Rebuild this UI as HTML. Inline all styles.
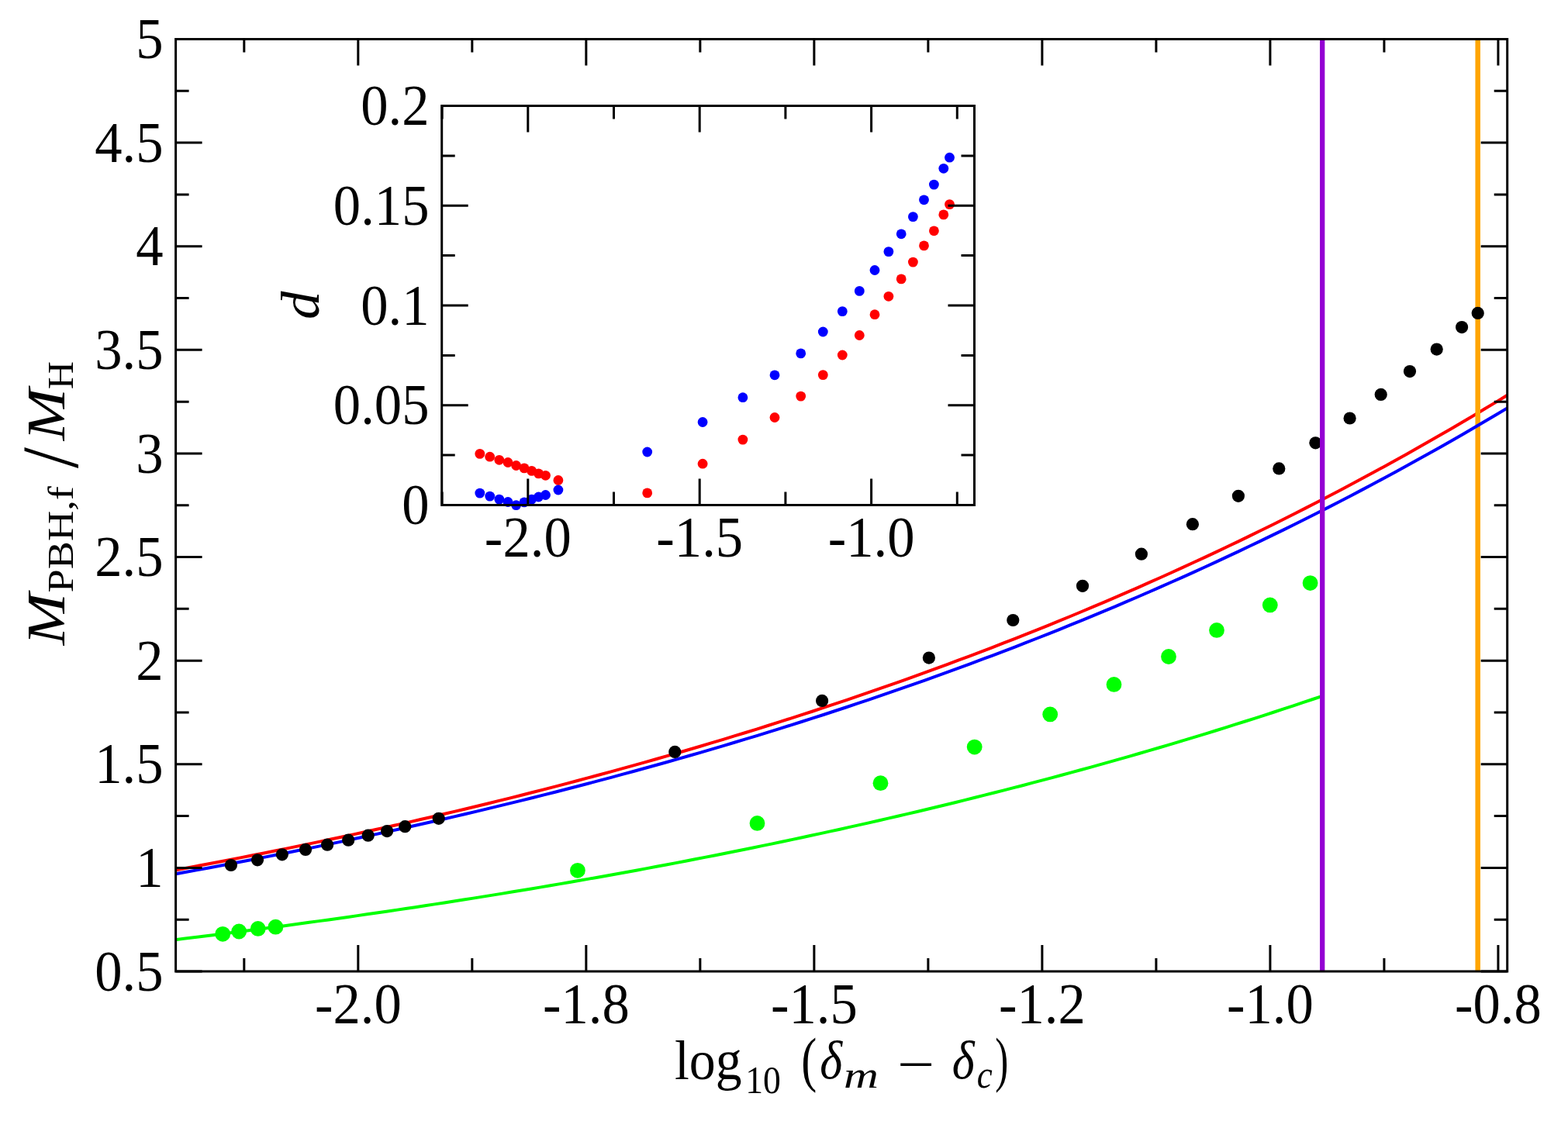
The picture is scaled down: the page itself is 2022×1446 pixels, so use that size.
<!DOCTYPE html><html><head><meta charset="utf-8"><style>html,body{margin:0;padding:0;background:#fff;overflow:hidden}svg{display:block}</style></head><body><svg width="2022" height="1446" viewBox="0 0 2022 1446">
<rect width="2022" height="1446" fill="#fff"/>
<clipPath id="cp"><rect x="226.6" y="50.5" width="1717.10" height="1202.50"/></clipPath>
<g clip-path="url(#cp)" fill="none" stroke-width="4" stroke-linejoin="round">
<polyline stroke="#ff0000" points="224.6,1122.62 239.0,1119.94 253.5,1117.24 267.9,1114.51 282.4,1111.75 296.8,1108.96 311.3,1106.15 325.7,1103.30 340.2,1100.43 354.6,1097.53 369.1,1094.60 383.5,1091.64 398.0,1088.65 412.4,1085.63 426.8,1082.57 441.3,1079.49 455.7,1076.38 470.2,1073.23 484.6,1070.06 499.1,1066.85 513.5,1063.61 528.0,1060.33 542.4,1057.02 556.9,1053.68 571.3,1050.31 585.8,1046.90 600.2,1043.45 614.6,1039.97 629.1,1036.46 643.5,1032.91 658.0,1029.32 672.4,1025.70 686.9,1022.04 701.3,1018.35 715.8,1014.61 730.2,1010.84 744.7,1007.03 759.1,1003.18 773.6,999.30 788.0,995.37 802.4,991.40 816.9,987.40 831.3,983.35 845.8,979.26 860.2,975.13 874.7,970.96 889.1,966.75 903.6,962.49 918.0,958.19 932.5,953.85 946.9,949.46 961.4,945.03 975.8,940.55 990.2,936.03 1004.7,931.46 1019.1,926.85 1033.6,922.18 1048.0,917.48 1062.5,912.72 1076.9,907.92 1091.4,903.06 1105.8,898.16 1120.3,893.21 1134.7,888.21 1149.2,883.15 1163.6,878.05 1178.1,872.89 1192.5,867.69 1206.9,862.42 1221.4,857.11 1235.8,851.74 1250.3,846.32 1264.7,840.84 1279.2,835.31 1293.6,829.72 1308.1,824.07 1322.5,818.37 1337.0,812.61 1351.4,806.79 1365.9,800.91 1380.3,794.98 1394.7,788.98 1409.2,782.92 1423.6,776.80 1438.1,770.62 1452.5,764.37 1467.0,758.06 1481.4,751.69 1495.9,745.25 1510.3,738.75 1524.8,732.18 1539.2,725.55 1553.7,718.85 1568.1,712.08 1582.5,705.24 1597.0,698.33 1611.4,691.35 1625.9,684.30 1640.3,677.18 1654.8,669.99 1669.2,662.73 1683.7,655.39 1698.1,647.97 1712.6,640.49 1727.0,632.92 1741.5,625.28 1755.9,617.56 1770.3,609.77 1784.8,601.89 1799.2,593.94 1813.7,585.90 1828.1,577.78 1842.6,569.58 1857.0,561.30 1871.5,552.93 1885.9,544.48 1900.4,535.94 1914.8,527.32 1929.3,518.61 1943.7,509.81"/>
<path d="M1905.7 50.5V1253.0" stroke="#ffa500" stroke-width="6.5"/>
<polyline stroke="#0000ff" points="224.6,1127.66 239.0,1125.04 253.5,1122.39 267.9,1119.71 282.4,1117.00 296.8,1114.27 311.3,1111.51 325.7,1108.72 340.2,1105.90 354.6,1103.05 369.1,1100.18 383.5,1097.27 398.0,1094.34 412.4,1091.37 426.8,1088.38 441.3,1085.36 455.7,1082.30 470.2,1079.22 484.6,1076.10 499.1,1072.95 513.5,1069.77 528.0,1066.56 542.4,1063.31 556.9,1060.03 571.3,1056.72 585.8,1053.38 600.2,1050.00 614.6,1046.59 629.1,1043.14 643.5,1039.66 658.0,1036.14 672.4,1032.58 686.9,1028.99 701.3,1025.37 715.8,1021.71 730.2,1018.01 744.7,1014.27 759.1,1010.49 773.6,1006.68 788.0,1002.83 802.4,998.93 816.9,995.00 831.3,991.03 845.8,987.02 860.2,982.97 874.7,978.88 889.1,974.74 903.6,970.57 918.0,966.35 932.5,962.09 946.9,957.78 961.4,953.43 975.8,949.04 990.2,944.60 1004.7,940.12 1019.1,935.59 1033.6,931.02 1048.0,926.40 1062.5,921.74 1076.9,917.02 1091.4,912.26 1105.8,907.45 1120.3,902.59 1134.7,897.68 1149.2,892.73 1163.6,887.72 1178.1,882.66 1192.5,877.55 1206.9,872.39 1221.4,867.17 1235.8,861.91 1250.3,856.59 1264.7,851.21 1279.2,845.78 1293.6,840.30 1308.1,834.76 1322.5,829.16 1337.0,823.51 1351.4,817.80 1365.9,812.03 1380.3,806.21 1394.7,800.32 1409.2,794.38 1423.6,788.37 1438.1,782.31 1452.5,776.18 1467.0,769.99 1481.4,763.74 1495.9,757.42 1510.3,751.04 1524.8,744.60 1539.2,738.09 1553.7,731.51 1568.1,724.87 1582.5,718.16 1597.0,711.38 1611.4,704.53 1625.9,697.62 1640.3,690.63 1654.8,683.58 1669.2,676.45 1683.7,669.25 1698.1,661.97 1712.6,654.62 1727.0,647.20 1741.5,639.70 1755.9,632.13 1770.3,624.48 1784.8,616.75 1799.2,608.95 1813.7,601.06 1828.1,593.10 1842.6,585.05 1857.0,576.92 1871.5,568.71 1885.9,560.42 1900.4,552.04 1914.8,543.58 1929.3,535.03 1943.7,526.40"/>
<polyline stroke="#00ff00" points="224.6,1212.33 237.0,1210.81 249.5,1209.28 261.9,1207.74 274.4,1206.18 286.8,1204.61 299.3,1203.03 311.7,1201.43 324.1,1199.82 336.6,1198.19 349.0,1196.55 361.5,1194.90 373.9,1193.23 386.3,1191.55 398.8,1189.85 411.2,1188.13 423.7,1186.41 436.1,1184.66 448.6,1182.91 461.0,1181.13 473.4,1179.34 485.9,1177.54 498.3,1175.72 510.8,1173.89 523.2,1172.03 535.7,1170.17 548.1,1168.28 560.5,1166.38 573.0,1164.46 585.4,1162.53 597.9,1160.58 610.3,1158.61 622.7,1156.63 635.2,1154.63 647.6,1152.61 660.1,1150.57 672.5,1148.51 685.0,1146.44 697.4,1144.35 709.8,1142.24 722.3,1140.12 734.7,1137.97 747.2,1135.81 759.6,1133.62 772.0,1131.42 784.5,1129.20 796.9,1126.96 809.4,1124.70 821.8,1122.42 834.3,1120.12 846.7,1117.80 859.1,1115.46 871.6,1113.10 884.0,1110.72 896.5,1108.32 908.9,1105.89 921.4,1103.45 933.8,1100.99 946.2,1098.50 958.7,1095.99 971.1,1093.46 983.6,1090.91 996.0,1088.34 1008.4,1085.74 1020.9,1083.12 1033.3,1080.48 1045.8,1077.81 1058.2,1075.13 1070.7,1072.41 1083.1,1069.68 1095.5,1066.92 1108.0,1064.14 1120.4,1061.33 1132.9,1058.50 1145.3,1055.64 1157.8,1052.76 1170.2,1049.86 1182.6,1046.93 1195.1,1043.97 1207.5,1040.99 1220.0,1037.98 1232.4,1034.94 1244.8,1031.88 1257.3,1028.79 1269.7,1025.68 1282.2,1022.54 1294.6,1019.37 1307.1,1016.17 1319.5,1012.95 1331.9,1009.69 1344.4,1006.41 1356.8,1003.10 1369.3,999.77 1381.7,996.40 1394.1,993.00 1406.6,989.58 1419.0,986.12 1431.5,982.63 1443.9,979.12 1456.4,975.57 1468.8,971.99 1481.2,968.38 1493.7,964.74 1506.1,961.07 1518.6,957.37 1531.0,953.63 1543.5,949.86 1555.9,946.06 1568.3,942.22 1580.8,938.36 1593.2,934.45 1605.7,930.52 1618.1,926.55 1630.5,922.54 1643.0,918.50 1655.4,914.43 1667.9,910.32 1680.3,906.17 1692.8,901.99 1705.2,897.77"/>
</g>
<g fill="#000"><circle cx="297.9" cy="1116.0" r="8.1"/><circle cx="332.0" cy="1109.3" r="8.1"/><circle cx="363.8" cy="1102.3" r="8.1"/><circle cx="394.0" cy="1095.9" r="8.1"/><circle cx="422.1" cy="1089.7" r="8.1"/><circle cx="449.2" cy="1083.7" r="8.1"/><circle cx="474.7" cy="1077.7" r="8.1"/><circle cx="499.1" cy="1072.1" r="8.1"/><circle cx="522.3" cy="1066.2" r="8.1"/><circle cx="565.7" cy="1055.8" r="8.1"/><circle cx="870.3" cy="969.9" r="8.1"/><circle cx="1060.1" cy="903.9" r="8.1"/><circle cx="1197.9" cy="848.6" r="8.1"/><circle cx="1306.3" cy="800.0" r="8.1"/><circle cx="1396.0" cy="755.8" r="8.1"/><circle cx="1471.9" cy="714.7" r="8.1"/><circle cx="1537.9" cy="676.2" r="8.1"/><circle cx="1596.9" cy="639.8" r="8.1"/><circle cx="1649.3" cy="604.4" r="8.1"/><circle cx="1696.4" cy="571.3" r="8.1"/><circle cx="1740.6" cy="539.5" r="8.1"/><circle cx="1780.7" cy="508.9" r="8.1"/><circle cx="1818.0" cy="479.1" r="8.1"/><circle cx="1852.7" cy="450.6" r="8.1"/><circle cx="1885.1" cy="422.1" r="8.1"/><circle cx="1905.7" cy="403.9" r="8.1"/></g>
<g fill="#00ff00"><circle cx="287.2" cy="1204.8" r="9.9"/><circle cx="308.2" cy="1201.5" r="9.9"/><circle cx="332.7" cy="1197.9" r="9.9"/><circle cx="355.4" cy="1195.7" r="9.9"/><circle cx="744.9" cy="1122.8" r="9.9"/><circle cx="976.5" cy="1061.9" r="9.9"/><circle cx="1135.5" cy="1010.2" r="9.9"/><circle cx="1256.7" cy="963.6" r="9.9"/><circle cx="1354.2" cy="921.4" r="9.9"/><circle cx="1436.5" cy="882.9" r="9.9"/><circle cx="1507.0" cy="847.0" r="9.9"/><circle cx="1569.0" cy="812.9" r="9.9"/><circle cx="1637.8" cy="780.4" r="9.9"/><circle cx="1689.6" cy="752.1" r="9.9"/></g>
<path d="M1705.2 50.5V1253.0" stroke="#9400d3" stroke-width="6.3"/>
<path d="M461.82 1253.0V1219.0M461.82 50.5V84.5M755.84 1253.0V1219.0M755.84 50.5V84.5M1049.87 1253.0V1219.0M1049.87 50.5V84.5M1343.89 1253.0V1219.0M1343.89 50.5V84.5M1637.92 1253.0V1219.0M1637.92 50.5V84.5M1931.94 1253.0V1219.0M1931.94 50.5V84.5M314.81 1253.0V1236.0M314.81 50.5V67.5M608.83 1253.0V1236.0M608.83 50.5V67.5M902.86 1253.0V1236.0M902.86 50.5V67.5M1196.88 1253.0V1236.0M1196.88 50.5V67.5M1490.90 1253.0V1236.0M1490.90 50.5V67.5M1784.93 1253.0V1236.0M1784.93 50.5V67.5M226.6 1253.00H260.6M1943.7 1253.00H1909.7M226.6 1119.39H260.6M1943.7 1119.39H1909.7M226.6 985.78H260.6M1943.7 985.78H1909.7M226.6 852.17H260.6M1943.7 852.17H1909.7M226.6 718.56H260.6M1943.7 718.56H1909.7M226.6 584.94H260.6M1943.7 584.94H1909.7M226.6 451.33H260.6M1943.7 451.33H1909.7M226.6 317.72H260.6M1943.7 317.72H1909.7M226.6 184.11H260.6M1943.7 184.11H1909.7M226.6 50.50H260.6M1943.7 50.50H1909.7M226.6 1186.19H243.6M1943.7 1186.19H1926.7M226.6 1052.58H243.6M1943.7 1052.58H1926.7M226.6 918.97H243.6M1943.7 918.97H1926.7M226.6 785.36H243.6M1943.7 785.36H1926.7M226.6 651.75H243.6M1943.7 651.75H1926.7M226.6 518.14H243.6M1943.7 518.14H1926.7M226.6 384.53H243.6M1943.7 384.53H1926.7M226.6 250.92H243.6M1943.7 250.92H1926.7M226.6 117.31H243.6M1943.7 117.31H1926.7" stroke="#000" stroke-width="3" fill="none"/>
<rect x="226.6" y="50.5" width="1717.10" height="1202.50" stroke="#000" stroke-width="3" fill="none"/>
<g fill="#ff0000"><circle cx="618.8" cy="585.4" r="6.4"/><circle cx="631.7" cy="589.2" r="6.4"/><circle cx="643.8" cy="593.3" r="6.4"/><circle cx="655.0" cy="596.5" r="6.4"/><circle cx="665.6" cy="600.5" r="6.4"/><circle cx="676.0" cy="603.9" r="6.4"/><circle cx="685.6" cy="607.4" r="6.4"/><circle cx="694.5" cy="610.9" r="6.4"/><circle cx="703.5" cy="613.3" r="6.4"/><circle cx="719.9" cy="619.5" r="6.4"/><circle cx="834.7" cy="635.9" r="6.4"/><circle cx="906.1" cy="598.2" r="6.4"/><circle cx="957.9" cy="567.1" r="6.4"/><circle cx="999.0" cy="538.5" r="6.4"/><circle cx="1032.7" cy="511.1" r="6.4"/><circle cx="1061.3" cy="483.6" r="6.4"/><circle cx="1086.3" cy="458.0" r="6.4"/><circle cx="1108.3" cy="432.5" r="6.4"/><circle cx="1128.0" cy="405.7" r="6.4"/><circle cx="1145.9" cy="382.3" r="6.4"/><circle cx="1162.2" cy="359.9" r="6.4"/><circle cx="1177.4" cy="338.1" r="6.4"/><circle cx="1191.5" cy="316.9" r="6.4"/><circle cx="1204.4" cy="297.8" r="6.4"/><circle cx="1216.8" cy="276.9" r="6.4"/><circle cx="1224.5" cy="263.6" r="6.4"/></g>
<g fill="#0000ff"><circle cx="618.8" cy="636.1" r="6.4"/><circle cx="631.7" cy="640.1" r="6.4"/><circle cx="643.8" cy="644.1" r="6.4"/><circle cx="655.0" cy="647.5" r="6.4"/><circle cx="665.6" cy="651.6" r="6.4"/><circle cx="676.0" cy="647.9" r="6.4"/><circle cx="685.6" cy="644.1" r="6.4"/><circle cx="694.5" cy="641.0" r="6.4"/><circle cx="703.5" cy="638.5" r="6.4"/><circle cx="719.9" cy="632.0" r="6.4"/><circle cx="834.7" cy="583.0" r="6.4"/><circle cx="906.1" cy="544.5" r="6.4"/><circle cx="957.9" cy="512.7" r="6.4"/><circle cx="999.0" cy="483.8" r="6.4"/><circle cx="1032.7" cy="455.9" r="6.4"/><circle cx="1061.3" cy="428.0" r="6.4"/><circle cx="1086.3" cy="401.6" r="6.4"/><circle cx="1108.3" cy="375.4" r="6.4"/><circle cx="1128.0" cy="348.5" r="6.4"/><circle cx="1145.9" cy="324.6" r="6.4"/><circle cx="1162.2" cy="301.8" r="6.4"/><circle cx="1177.4" cy="279.6" r="6.4"/><circle cx="1191.5" cy="257.8" r="6.4"/><circle cx="1204.4" cy="238.1" r="6.4"/><circle cx="1216.8" cy="217.3" r="6.4"/><circle cx="1224.5" cy="203.2" r="6.4"/></g>
<path d="M680.80 651.5V617.5M680.80 136.5V170.5M902.20 651.5V617.5M902.20 136.5V170.5M1123.60 651.5V617.5M1123.60 136.5V170.5M570.10 651.5V634.5M570.10 136.5V153.5M791.50 651.5V634.5M791.50 136.5V153.5M1012.90 651.5V634.5M1012.90 136.5V153.5M1234.30 651.5V634.5M1234.30 136.5V153.5M569.7 651.50H603.7M1256.5 651.50H1222.5M569.7 522.75H603.7M1256.5 522.75H1222.5M569.7 394.00H603.7M1256.5 394.00H1222.5M569.7 265.25H603.7M1256.5 265.25H1222.5M569.7 136.50H603.7M1256.5 136.50H1222.5M569.7 587.12H586.7M1256.5 587.12H1239.5M569.7 458.38H586.7M1256.5 458.38H1239.5M569.7 329.62H586.7M1256.5 329.62H1239.5M569.7 200.88H586.7M1256.5 200.88H1239.5" stroke="#000" stroke-width="3" fill="none"/>
<rect x="569.7" y="136.5" width="686.80" height="515.00" stroke="#000" stroke-width="3" fill="none"/>
<g style="font-family:'Liberation Serif',serif" font-size="74" fill="#000"><text transform="translate(210.50,1277.60) scale(0.955,1)" text-anchor="end">0.5</text><text transform="translate(210.50,1143.99) scale(0.955,1)" text-anchor="end">1</text><text transform="translate(210.50,1010.38) scale(0.955,1)" text-anchor="end">1.5</text><text transform="translate(210.50,876.77) scale(0.955,1)" text-anchor="end">2</text><text transform="translate(210.50,743.16) scale(0.955,1)" text-anchor="end">2.5</text><text transform="translate(210.50,609.54) scale(0.955,1)" text-anchor="end">3</text><text transform="translate(210.50,475.93) scale(0.955,1)" text-anchor="end">3.5</text><text transform="translate(210.50,342.32) scale(0.955,1)" text-anchor="end">4</text><text transform="translate(210.50,208.71) scale(0.955,1)" text-anchor="end">4.5</text><text transform="translate(210.50,75.10) scale(0.955,1)" text-anchor="end">5</text><text transform="translate(461.82,1320.00) scale(0.955,1)" text-anchor="middle">-2.0</text><text transform="translate(755.84,1320.00) scale(0.955,1)" text-anchor="middle">-1.8</text><text transform="translate(1049.87,1320.00) scale(0.955,1)" text-anchor="middle">-1.5</text><text transform="translate(1343.89,1320.00) scale(0.955,1)" text-anchor="middle">-1.2</text><text transform="translate(1637.92,1320.00) scale(0.955,1)" text-anchor="middle">-1.0</text><text transform="translate(1931.94,1320.00) scale(0.955,1)" text-anchor="middle">-0.8</text><text transform="translate(553.50,676.10) scale(0.955,1)" text-anchor="end">0</text><text transform="translate(553.50,547.35) scale(0.955,1)" text-anchor="end">0.05</text><text transform="translate(553.50,418.60) scale(0.955,1)" text-anchor="end">0.1</text><text transform="translate(553.50,289.85) scale(0.955,1)" text-anchor="end">0.15</text><text transform="translate(553.50,161.10) scale(0.955,1)" text-anchor="end">0.2</text><text transform="translate(680.80,718.00) scale(0.955,1)" text-anchor="middle">-2.0</text><text transform="translate(902.20,718.00) scale(0.955,1)" text-anchor="middle">-1.5</text><text transform="translate(1123.60,718.00) scale(0.955,1)" text-anchor="middle">-1.0</text></g>
<text transform="translate(410.5,412) rotate(-90) scale(1.05,1)" style="font-family:'Liberation Serif',serif;font-style:italic" font-size="69">d</text>
<g transform="translate(82,836) rotate(-90)" style="font-family:'Liberation Serif',serif" fill="#000"><text transform="translate(3.75,0.50) scale(1.170,1)" font-size="69" font-style="italic">M</text><text transform="translate(71.50,11.50) scale(1.182,1)" font-size="46">PBH,f</text><text transform="translate(232.1,18.1) scale(1.1,1.19)" font-size="88">/</text><text transform="translate(267.85,0.50) scale(1.170,1)" font-size="69" font-style="italic">M</text><text transform="translate(333.80,11.50) scale(1.090,1)" font-size="46">H</text></g>
<g style="font-family:'Liberation Serif',serif" fill="#000"><text transform="translate(869.90,1392.00) scale(0.942,1)" font-size="72">log</text><text transform="translate(961.30,1409.50) scale(0.895,1)" font-size="51">10</text><text transform="translate(1033.20,1393.10) scale(0.760,1)" font-size="79">(</text><text transform="translate(1057.30,1390.50) scale(0.887,1)" font-size="70" font-style="italic">δ</text><text transform="translate(1088.00,1402.60) scale(1.270,1)" font-size="49" font-style="italic">m</text><text transform="translate(1157.10,1397.40) scale(1.188,1)" font-size="72">−</text><text transform="translate(1227.70,1390.50) scale(0.887,1)" font-size="70" font-style="italic">δ</text><text transform="translate(1259.70,1402.60) scale(0.900,1)" font-size="50" font-style="italic">c</text><text transform="translate(1283.30,1393.30) scale(0.650,1)" font-size="79">)</text></g>
</svg></body></html>
